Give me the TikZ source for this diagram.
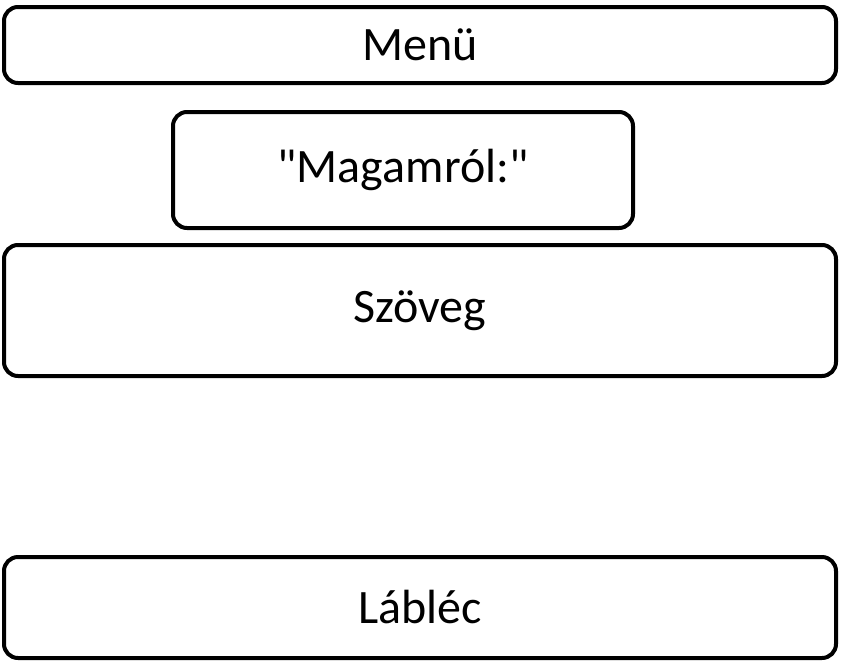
\documentclass[tikz,border=0pt]{standalone}
\usepackage{fontspec}
\setmainfont{Carlito}[Ligatures=TeXOff]
\begin{document}
\begin{tikzpicture}[x=1pt,y=-1pt]
    \tikzstyle{every node}=[draw,line width=4pt,rounded corners=14pt,inner sep=0pt,font=\fontsize{48}{58}\selectfont];
    \useasboundingbox (0,0) rectangle (844,665);
    \node (menu) at (420,45) [minimum width=832pt,minimum height=76pt] {Menü};
    \node (magamrol) at (403,170) [minimum width=460pt,minimum height=116pt] {"Magamról:"};
    \node (szoveg) at (420,310.5) [minimum width=832pt,minimum height=131pt] {Szöveg};
    \node (lablec) at (420,607.5) [minimum width=832pt,minimum height=101pt] {Lábléc};
  \end{tikzpicture}
\end{document}
